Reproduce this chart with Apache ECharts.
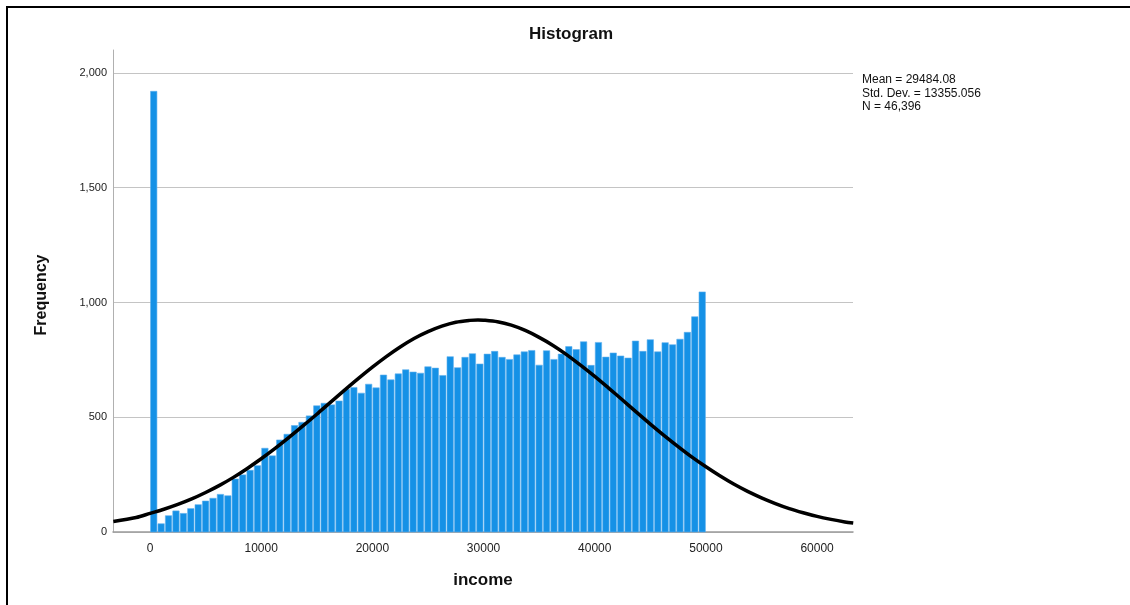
<!DOCTYPE html>
<html>
<head>
<meta charset="utf-8">
<script src="https://cdn.jsdelivr.net/npm/echarts@6/dist/echarts.min.js"></script>
<style>
  html, body { margin: 0; padding: 0; background: #fff; }
  #main { width: 1130px; height: 605px; }
</style>
</head>
<body>
<div id="main"></div>
<script>
// income histogram, 75 bins of equal width from 0 to 50000
var binStart = 0;
var binEnd = 50000;
var binCounts = [
    1920, 36, 71, 92, 81, 102, 119, 135, 147, 164, 158, 231, 249, 269, 289,
    365, 332, 401, 426, 464, 478, 506, 550, 561, 554, 571, 622, 630, 605, 644,
    628, 684, 663, 689, 707, 697, 692, 720, 714, 682, 764, 716, 761, 777, 732,
    775, 787, 761, 752, 772, 785, 791, 727, 790, 752, 775, 808, 795, 829, 726,
    826, 762, 780, 767, 758, 832, 787, 838, 785, 825, 816, 840, 870, 938, 1046
];

// normal curve
var curveX = [-3300, -1250, 0, 1250, 2500, 3750, 5000, 6250, 7500, 8750, 10000,
    11250, 12500, 13750, 15000, 16250, 17500, 18750, 20000, 21250, 22500,
    23750, 25000, 26250, 27500, 28750, 29500, 30000, 31250, 32500, 33750,
    35000, 36250, 37500, 38750, 40000, 41250, 42500, 43750, 45000, 46250,
    47500, 48750, 50000, 51250, 52500, 53750, 55000, 56250, 57500, 58750,
    60000, 61250, 62500, 63250];
var curveY = [46, 63, 81, 99, 120, 144, 172, 203, 238, 277, 319,
    364, 412, 462, 513, 566, 618, 669, 718, 764, 806,
    843, 873, 897, 914, 922, 924, 923, 916, 901, 878,
    848, 813, 772, 726, 678, 627, 575, 522, 470, 420,
    372, 326, 284, 245, 209, 177, 149, 124, 102, 84,
    68, 55, 44, 39];

var xTicks = [0, 10000, 20000, 30000, 40000, 50000, 60000];
var yTicks = [0, 500, 1000, 1500, 2000];
var statLines = ['Mean = 29484.08', 'Std. Dev. = 13355.056', 'N = 46,396'];

var FONT = '"Liberation Sans", Arial, sans-serif';

var binWidth = (binEnd - binStart) / binCounts.length;
var barData = binCounts.map(function (c, i) {
    return [binStart + i * binWidth, binStart + (i + 1) * binWidth, c];
});
var curveData = curveX.map(function (x, i) { return [x, curveY[i]]; });

var chart = echarts.init(document.getElementById('main'));
var option = {
    backgroundColor: '#fff',
    animation: false,
    grid: { left: 113, right: 277, top: 50, bottom: 73 },
    xAxis: {
        type: 'value',
        min: -3330,
        max: 63230,
        axisLine: { show: true, onZero: false, lineStyle: { color: '#9a9a9a', width: 1.5 } },
        axisTick: { show: false },
        splitLine: { show: false },
        axisLabel: {
            color: '#222', fontFamily: FONT, fontSize: 12, margin: 11,
            customValues: xTicks,
            formatter: function (v) { return String(v); }
        }
    },
    yAxis: {
        type: 'value',
        min: 0,
        max: 2100,
        interval: 500,
        axisLine: { show: true, onZero: false, lineStyle: { color: '#b0b0b0', width: 1 } },
        axisTick: { show: false },
        splitLine: { show: true, showMaxLine: false, lineStyle: { color: '#c4c4c4', width: 1 } },
        axisLabel: {
            color: '#222', fontFamily: FONT, fontSize: 11, margin: 6,
            formatter: function (v) { return yTicks.indexOf(v) >= 0 ? v.toLocaleString('en-US') : ''; }
        }
    },
    series: [
        {
            type: 'custom',
            data: barData,
            encode: { x: [0, 1], y: 2 },
            renderItem: function (params, api) {
                var p0 = api.coord([api.value(0), api.value(2)]);
                var p1 = api.coord([api.value(1), 0]);
                return {
                    type: 'rect',
                    shape: { x: p0[0] + 0.5, y: p0[1], width: p1[0] - p0[0] - 1, height: p1[1] - p0[1] },
                    style: { fill: '#1591e6', stroke: '#5fb0ee', lineWidth: 0.6 }
                };
            },
            z: 2
        },
        {
            type: 'line',
            data: curveData,
            smooth: 0.3,
            symbol: 'none',
            lineStyle: { color: '#000', width: 3.5 },
            z: 3
        }
    ],
    graphic: [
        {
            type: 'rect',
            shape: { x: 7, y: 7, width: 1200, height: 700 },
            style: { fill: 'none', stroke: '#000', lineWidth: 2 }
        },
        {
            type: 'text', x: 571, y: 34,
            style: { text: 'Histogram', font: 'bold 17px ' + FONT, fill: '#111', textAlign: 'center', textVerticalAlign: 'middle' }
        },
        {
            type: 'text', x: 42, y: 295, rotation: Math.PI / 2,
            style: { text: 'Frequency', font: 'bold 16px ' + FONT, fill: '#111', textAlign: 'center', textVerticalAlign: 'middle' }
        },
        {
            type: 'text', x: 483, y: 580,
            style: { text: 'income', font: 'bold 17px ' + FONT, fill: '#111', textAlign: 'center', textVerticalAlign: 'middle' }
        },
        {
            type: 'text', x: 862, y: 73,
            style: { text: statLines.join('\n'), font: '12px ' + FONT, lineHeight: 13.5, fill: '#111' }
        }
    ]
};
chart.setOption(option);
</script>
</body>
</html>
